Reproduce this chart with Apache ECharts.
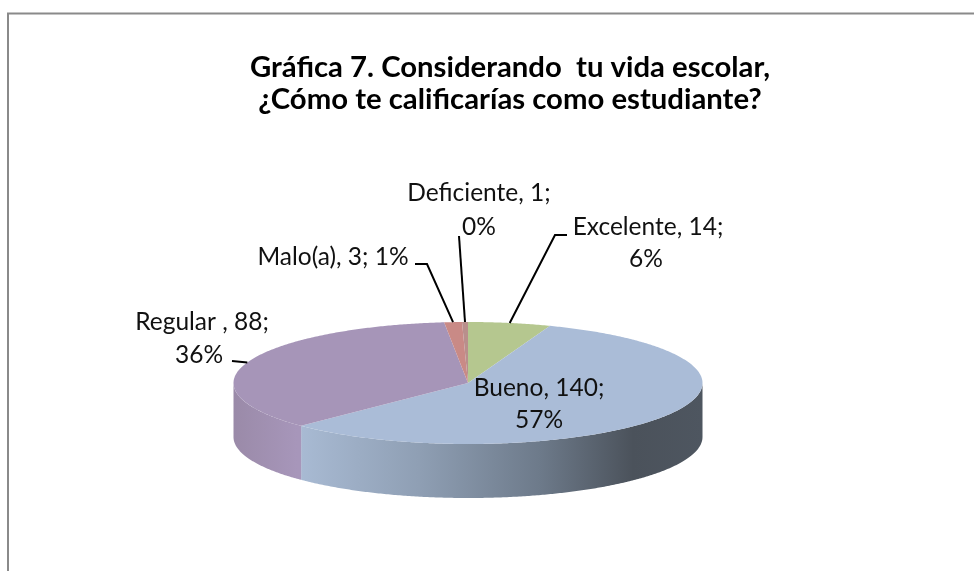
<!DOCTYPE html>
<html><head><meta charset="utf-8">
<style>html,body{margin:0;padding:0;background:#fff}#c{width:974px;height:571px}</style>
<script src="https://cdn.jsdelivr.net/npm/echarts@6/dist/echarts.min.js"></script>
</head><body><div id="c"></div>
<script>
const categories = ['Excelente', 'Bueno', 'Regular ', 'Malo(a)', 'Deficiente'];
const values = [14, 140, 88, 3, 1];
const percents = ['6%', '57%', '36%', '1%', '0%'];
const titleLines = ['Gráfica 7. Considerando  tu vida escolar,', '¿Cómo te calificarías como estudiante?'];

// Styling and layout, apart from the data
const topColors = ['#b5c78f', '#aabcd7', '#a695b8', '#c98a86', '#b98f8c'];
const wallStops = [
  [{offset:0,color:'#a9bbd4'},{offset:0.3,color:'#8f9fb4'},{offset:0.6,color:'#6d7a8a'},{offset:0.83,color:'#4b525b'},{offset:1,color:'#4e5660'}],
  [{offset:0,color:'#9a8aa8'},{offset:1,color:'#a796ba'}]
];
const wallExtent = [[297,702],[233,297]];
const wallColorIndex = [null, 0, 1, null, null];
const cx = 468, cy = 383, rx = 234.5, ry = 61, depth = 54;
const textLayout = [
  [[648,227,0],[646,259,0]],
  [[539,388,0],[539,420,0]],
  [[202,322,0],[199,355,0]],
  [[333,257,0]],
  [[479,193,0],[479,227,0]]
];
const labelLines = [
  [categories[0]+', '+values[0]+';', percents[0]],
  [categories[1]+', '+values[1]+';', percents[1]],
  [categories[2]+', '+values[2]+';', percents[2]],
  [categories[3]+', '+values[3]+'; '+percents[3]],
  [categories[4]+', '+values[4]+';', percents[4]]
];
const leaderBends = [
  [[567,235],[555,235]],
  null,
  [[232,361]],
  [[415,264],[427,264]],
  [[459,236]]
];

const total = values.reduce((a,b)=>a+b,0);
const ang = [];
{let s = 0; values.forEach(v=>{ang.push([s, s+v/total*360]); s += v/total*360;});}
const pt = (deg, dy) => {
  const r = deg*Math.PI/180;
  return [cx+rx*Math.sin(r), cy-ry*Math.cos(r)+(dy||0)];
};
const arc = (a,b,dy) => {
  const out=[]; const n=Math.max(2,Math.ceil((b-a)/0.5));
  for(let i=0;i<=n;i++) out.push(pt(a+(b-a)*i/n,dy));
  return out;
};

function renderWall(params){
  const i=params.dataIndex, a=Math.max(ang[i][0],90), b=Math.min(ang[i][1],270);
  if(b<=a || wallColorIndex[i]===null) return {type:'group',children:[]};
  const e=wallExtent[wallColorIndex[i]];
  return {type:'polygon',shape:{points:arc(a,b,0).concat(arc(a,b,depth).reverse())},
    style:{fill:{type:'linear',x:e[0],y:0,x2:e[1],y2:0,global:true,colorStops:wallStops[wallColorIndex[i]]}}};
}
function renderTop(params){
  const i=params.dataIndex, a=ang[i];
  return {type:'polygon',shape:{points:[[cx,cy]].concat(arc(a[0],a[1],0))},style:{fill:topColors[i]}};
}
function renderLabel(params){
  const i=params.dataIndex, kids=[];
  const mid=(ang[i][0]+ang[i][1])/2;
  if(leaderBends[i]){
    kids.push({type:'polyline',shape:{points:leaderBends[i].concat([pt(mid,0)])},
      style:{stroke:'#000',lineWidth:2,fill:null}});
  }
  labelLines[i].forEach((t,k)=>{
    const p=textLayout[i][k];
    kids.push({type:'text',x:p[0],y:p[1],style:{text:t,fill:'#111',font:'24.5px Lato',align:'center',verticalAlign:'middle'}});
  });
  return {type:'group',children:kids};
}
const seriesData = categories.map((n,i)=>({name:n,value:values[i]}));
const chart = echarts.init(document.getElementById('c'),null,{renderer:'canvas'});
chart.setOption({
  animation:false,
  backgroundColor:'#fff',
  graphic:[
    {type:'polyline',shape:{points:[[8,571],[8,13.5],[974,13.5]]},style:{stroke:'#8a8a8a',lineWidth:2,fill:null},z:0},
    {type:'text',x:510,y:68,style:{text:titleLines[0],fill:'#000',font:'bold 29.3px Lato',align:'center',verticalAlign:'middle'}},
    {type:'text',x:510,y:100,style:{text:titleLines[1],fill:'#000',font:'bold 29.3px Lato',align:'center',verticalAlign:'middle'}}
  ],
  series:[
    {type:'custom',coordinateSystem:'none',renderItem:renderWall,data:seriesData,z:1,silent:true},
    {type:'custom',coordinateSystem:'none',renderItem:renderTop,data:seriesData,z:2,silent:true},
    {type:'custom',coordinateSystem:'none',renderItem:renderLabel,data:seriesData,z:3,silent:true}
  ]
});
</script></body></html>
